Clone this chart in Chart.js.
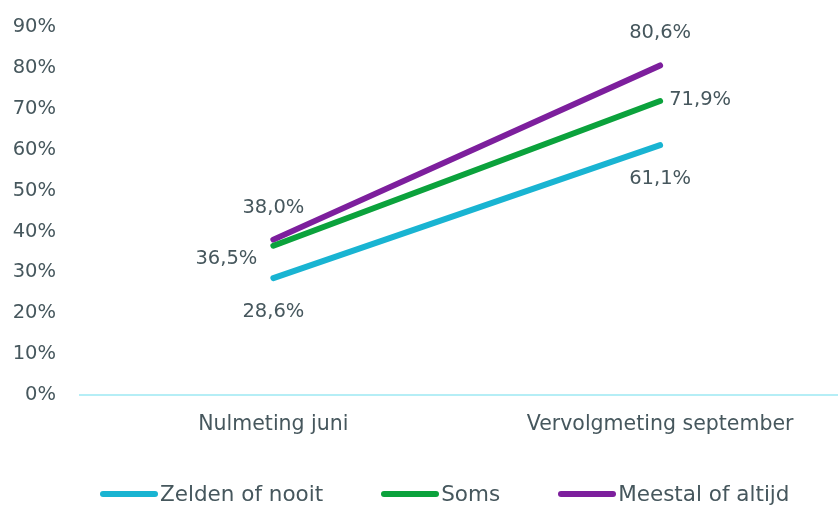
<!DOCTYPE html>
<html lang="nl">
<head>
    <meta charset="UTF-8">
    <title>Nulmeting en vervolgmeting</title>
    <script src="https://cdn.jsdelivr.net/npm/chart.js"></script>
    <style>
        html, body { margin: 0; padding: 0; background: #fff; overflow: hidden; }
        #wrap { position: relative; width: 838px; height: 509px; }
        #legend {
            position: absolute; left: 100px; top: 481px;
            display: flex; gap: 58px;
            font-family: "DejaVu Sans", sans-serif; font-size: 21.5px;
            color: #46575d;
        }
        #legend .item { display: flex; align-items: center; }
        #legend .swatch { width: 58px; height: 6px; border-radius: 3px; margin-right: 2px; }
    </style>
</head>
<body>
    <div id="wrap">
        <canvas id="lineChart" width="838" height="509"></canvas>
        <div id="legend"></div>
    </div>

    <script>
        const metingen = ['Nulmeting juni', 'Vervolgmeting september']
        const zeldenNooit = [28.6, 61.1]
        const soms = [36.5, 71.9]
        const meestalAltijd = [38.0, 80.6]
        const yTicks = [0, 10, 20, 30, 40, 50, 60, 70, 80, 90]

        const textColor = '#46575d'
        const fontFamily = '"DejaVu Sans", sans-serif'

        function pct(v) {
            return v.toFixed(1).replace('.', ',') + '%'
        }

        // where each value label sits relative to its point
        const placements = {
            above: { dx: 0, dy: -32 },
            below: { dx: 0, dy: 34 },
            left: { dx: -47, dy: 13 },
            right: { dx: 40, dy: -1 },
        }

        const valueLabels = {
            id: 'valueLabels',
            afterDatasetsDraw(chart) {
                const ctx = chart.ctx
                ctx.save()
                ctx.font = '19.5px ' + fontFamily
                ctx.fillStyle = textColor
                ctx.textAlign = 'center'
                ctx.textBaseline = 'middle'
                chart.data.datasets.forEach((ds, i) => {
                    const meta = chart.getDatasetMeta(i)
                    meta.data.forEach((pt, j) => {
                        const p = placements[ds.labelPlacement[j]]
                        ctx.fillText(pct(ds.data[j].y), pt.x + p.dx, pt.y + p.dy)
                    })
                })
                ctx.restore()
            }
        }

        function series(values) {
            return values.map((v, i) => ({ x: i, y: v }))
        }

        const data = {
            datasets: [
                {
                    label: 'Zelden of nooit',
                    data: series(zeldenNooit),
                    borderColor: '#19b4d2',
                    backgroundColor: '#19b4d2',
                    labelPlacement: ['below', 'below'],
                },
                {
                    label: 'Soms',
                    data: series(soms),
                    borderColor: '#0ba23c',
                    backgroundColor: '#0ba23c',
                    labelPlacement: ['left', 'right'],
                },
                {
                    label: 'Meestal of altijd',
                    data: series(meestalAltijd),
                    borderColor: '#7d1f9d',
                    backgroundColor: '#7d1f9d',
                    labelPlacement: ['above', 'above'],
                },
            ]
        }

        data.datasets.forEach(ds => {
            ds.borderWidth = 6
            ds.borderCapStyle = 'round'
            ds.pointRadius = 0
            ds.pointHoverRadius = 0
        })

        const config = {
            type: 'line',
            data: data,
            options: {
                responsive: false,
                animation: false,
                events: [],
                layout: { padding: { top: 27, right: 0, left: 0, bottom: 74 } },
                scales: {
                    x: {
                        type: 'linear',
                        min: -0.5,
                        max: 1.46,
                        grid: { display: false, drawTicks: false },
                        border: { display: true, color: '#b5eef6', width: 2 },
                        afterBuildTicks: scale => {
                            scale.ticks = metingen.map((m, i) => ({ value: i }))
                        },
                        afterFit: scale => { scale.height = 40 },
                        ticks: {
                            padding: 17,
                            color: textColor,
                            font: { family: fontFamily, size: 20.5 },
                            callback: v => metingen[v],
                        },
                    },
                    y: {
                        min: 0,
                        max: 90,
                        afterBuildTicks: scale => {
                            scale.ticks = yTicks.map(v => ({ value: v }))
                        },
                        afterFit: scale => {
                            // fixed width; no extra room above the top tick
                            scale.width = 80
                            scale.paddingTop = 0
                            scale.paddingBottom = 0
                        },
                        grid: { display: false, drawTicks: false },
                        border: { display: false },
                        ticks: {
                            padding: 24,
                            color: textColor,
                            font: { family: fontFamily, size: 19.5 },
                            callback: v => v + '%',
                        },
                    },
                },
                plugins: {
                    tooltip: { enabled: false },
                    legend: { display: false },
                },
            },
            plugins: [valueLabels],
        }

        const chart = new Chart(document.getElementById('lineChart'), config)

        // legend built from the datasets
        const legend = document.getElementById('legend')
        chart.data.datasets.forEach(ds => {
            const item = document.createElement('div')
            item.className = 'item'
            const swatch = document.createElement('span')
            swatch.className = 'swatch'
            swatch.style.background = ds.borderColor
            const text = document.createElement('span')
            text.textContent = ds.label
            item.appendChild(swatch)
            item.appendChild(text)
            legend.appendChild(item)
        })
    </script>
</body>
</html>
